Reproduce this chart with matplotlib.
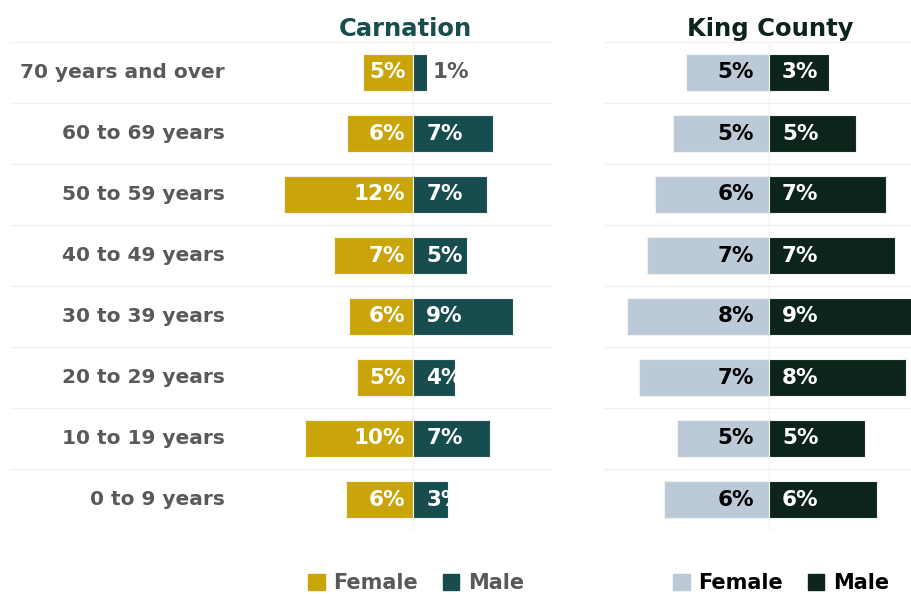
import matplotlib.pyplot as plt
from matplotlib.patches import Patch

# age groups, top to bottom
ages = ["70 years and over", "60 to 69 years", "50 to 59 years", "40 to 49 years",
        "30 to 39 years", "20 to 29 years", "10 to 19 years", "0 to 9 years"]

# Carnation shares (%)
carn_female = [4.7, 6.2, 12.0, 7.4, 6.0, 5.2, 10.1, 6.3]
carn_male = [1.3, 7.4, 6.9, 5.0, 9.3, 3.9, 7.1, 3.2]

# King County shares (%)
king_female = [4.7, 5.4, 6.4, 6.9, 8.0, 7.3, 5.2, 5.9]
king_male = [3.4, 4.9, 6.6, 7.1, 8.6, 7.7, 5.4, 6.1]

plt.rcParams['font.family'] = ['DejaVu Sans']
plt.rcParams['font.weight'] = 'bold'

W, H = 911, 595
fig = plt.figure(figsize=(W / 100, H / 100), dpi=100)


def px_axes(x0, x1, y0, y1):
    return fig.add_axes([x0 / W, 1 - y1 / H, (x1 - x0) / W, (y1 - y0) / H])


def draw_panel(ax, female, male, fcol, mcol, flab_col, mlab_col, title, tcol, xlim, foff):
    y = list(range(len(ages)))
    ax.barh(y, [-v for v in female], height=0.6, color=fcol, edgecolor='#f2f2f2', linewidth=0.8)
    ax.barh(y, male, height=0.6, color=mcol, edgecolor='#f2f2f2', linewidth=0.8)
    for i in y:
        ax.annotate(f"{female[i]:.0f}%", (0, i), xytext=(-foff, 0), textcoords='offset pixels',
                    ha='right', va='center', color=flab_col, fontsize=15.5, fontweight='bold')
        if male[i] < 2:
            ax.annotate(f"{male[i]:.0f}%", (male[i], i), xytext=(5, 0), textcoords='offset pixels',
                        ha='left', va='center', color='#595959', fontsize=15.5, fontweight='bold')
        else:
            ax.annotate(f"{male[i]:.0f}%", (0, i), xytext=(13, 0), textcoords='offset pixels',
                        ha='left', va='center', color=mlab_col, fontsize=15.5, fontweight='bold',
                        clip_on=True)
    for g in [k - 0.5 for k in range(len(ages) + 1)]:
        ax.axhline(g, color='#f0f0f0', linewidth=1, zorder=0)
    ax.axvline(0, color='#f4f4f4', linewidth=1, zorder=0)
    ax.set_xlim(*xlim)
    ax.set_ylim(len(ages) - 0.5, -0.5)
    ax.axis('off')
    ax.set_title(title, color=tcol, fontsize=17.5, fontweight='bold', pad=4)
    return ax


ax1 = px_axes(10, 552, 42, 530)
draw_panel(ax1, carn_female, carn_male, '#caa509', '#174d4f', 'white', 'white',
           'Carnation', '#1a4d4e', (-37.5, 12.9), 8)
for i, a in enumerate(ages):
    ax1.text(-17.5, i, a, ha='right', va='center', color='#595959', fontsize=14.5, fontweight='bold')
ax1.title.set_position((0.73, 1))

ax2 = px_axes(604, 911, 42, 530)
draw_panel(ax2, king_female, king_male, '#bccad8', '#0c2419', 'black', 'white',
           'King County', '#0c2419', (-9.3, 8.0), 15)
ax2.title.set_position((0.54, 1))

leg1 = fig.legend(handles=[Patch(color='#caa509', label='Female'), Patch(color='#174d4f', label='Male')],
                  loc='center', bbox_to_anchor=(416 / W, 1 - 583 / H), ncol=2, frameon=False,
                  handlelength=0.8, handleheight=0.8, handletextpad=0.4, columnspacing=1.2,
                  prop={'size': 15, 'weight': 'bold'}, labelcolor='#595959')
leg2 = fig.legend(handles=[Patch(color='#bccad8', label='Female'), Patch(color='#0c2419', label='Male')],
                  loc='center', bbox_to_anchor=(781 / W, 1 - 583 / H), ncol=2, frameon=False,
                  handlelength=0.8, handleheight=0.8, handletextpad=0.4, columnspacing=1.2,
                  prop={'size': 15, 'weight': 'bold'}, labelcolor='black')

fig.savefig('out.png', dpi=100)
